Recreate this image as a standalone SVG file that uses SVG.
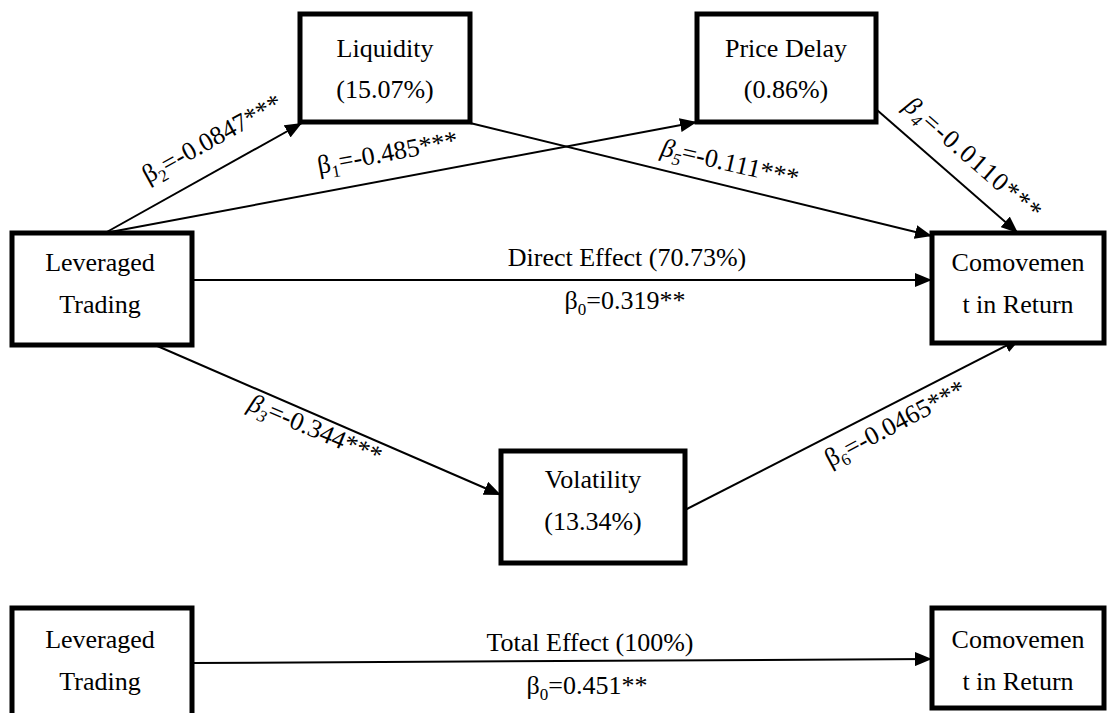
<svg xmlns="http://www.w3.org/2000/svg" width="1111" height="713" viewBox="0 0 1111 713">
<style>
.box{fill:#fff;stroke:#000;stroke-width:5}
.t{font-family:"Liberation Serif","Times New Roman",serif;font-size:26px;fill:#000;text-anchor:middle}
.c{stroke:#000;stroke-width:2;fill:none;marker-end:url(#ah)}
.s{font-size:17px}
.i{font-style:italic}
</style>
<defs>
<marker id="ah" markerUnits="userSpaceOnUse" markerWidth="18" markerHeight="14" refX="17" refY="7" orient="auto">
<path d="M0,0 L17,7 L0,14 Z" fill="#000"/>
</marker>
</defs>
<rect width="1111" height="713" fill="#fff"/>
<g id="connectors">
<path class="c" d="M105,233 L302,123"/>
<path class="c" d="M105,233 L697,122"/>
<path class="c" d="M470,123 L932,236"/>
<path class="c" d="M877,110 L1018,233"/>
<path class="c" d="M192,280 L932,280"/>
<path class="c" d="M155,345 L501,495"/>
<path class="c" d="M685,510 L1021,338"/>
<path class="c" d="M192,663 L932,659"/>
</g>
<g id="labels">
<text class="t" transform="translate(216,146) rotate(-29)">β<tspan class="s" dy="6">2</tspan><tspan dy="-6">=-0.0847***</tspan></text>
<text class="t" transform="translate(389,161) rotate(-10.6)">β<tspan class="s" dy="6">1</tspan><tspan dy="-6">=-0.485***</tspan></text>
<text class="t" transform="translate(728,171) rotate(13)"><tspan class="i">β</tspan><tspan class="s i" dy="6">5</tspan><tspan dy="-6">=-0.111***</tspan></text>
<text class="t" transform="translate(968,165) rotate(40.9)" letter-spacing="1.5"><tspan class="i">β</tspan><tspan class="s i" dy="6">4</tspan><tspan dy="-6">=-0.0110***</tspan></text>
<text class="t" transform="translate(312,437) rotate(23)"><tspan class="i">β</tspan><tspan class="s i" dy="6">3</tspan><tspan dy="-6">=-0.344***</tspan></text>
<text class="t" transform="translate(899,431) rotate(-28)">β<tspan class="s" dy="6">6</tspan><tspan dy="-6">=-0.0465***</tspan></text>
<text class="t" x="627" y="266">Direct Effect (70.73%)</text>
<text class="t" x="625" y="309">β<tspan class="s" dy="6">0</tspan><tspan dy="-6">=0.319**</tspan></text>
<text class="t" x="590" y="651">Total Effect (100%)</text>
<text class="t" x="587" y="694">β<tspan class="s" dy="6">0</tspan><tspan dy="-6">=0.451**</tspan></text>
</g>
<g id="liquidity">
<rect class="box" x="300" y="14" width="170" height="108"/>
<text class="t" x="385" y="57">Liquidity</text>
<text class="t" x="385" y="98">(15.07%)</text>
</g>
<g id="price-delay">
<rect class="box" x="697" y="14" width="179" height="108"/>
<text class="t" x="786" y="57">Price Delay</text>
<text class="t" x="786" y="98">(0.86%)</text>
</g>
<g id="leveraged-trading">
<rect class="box" x="12" y="233" width="180" height="112"/>
<text class="t" x="100" y="271">Leveraged</text>
<text class="t" x="100" y="313">Trading</text>
</g>
<g id="comovement">
<rect class="box" x="932" y="233" width="172" height="110"/>
<text class="t" x="1018" y="271">Comovemen</text>
<text class="t" x="1018" y="313">t in Return</text>
</g>
<g id="volatility">
<rect class="box" x="501" y="451" width="184" height="112"/>
<text class="t" x="593" y="488">Volatility</text>
<text class="t" x="593" y="530">(13.34%)</text>
</g>
<g id="leveraged-trading-total">
<rect class="box" x="12" y="608" width="180" height="115"/>
<text class="t" x="100" y="648">Leveraged</text>
<text class="t" x="100" y="690">Trading</text>
</g>
<g id="comovement-total">
<rect class="box" x="932" y="608" width="172" height="100"/>
<text class="t" x="1018" y="648">Comovemen</text>
<text class="t" x="1018" y="690">t in Return</text>
</g>
</svg>
